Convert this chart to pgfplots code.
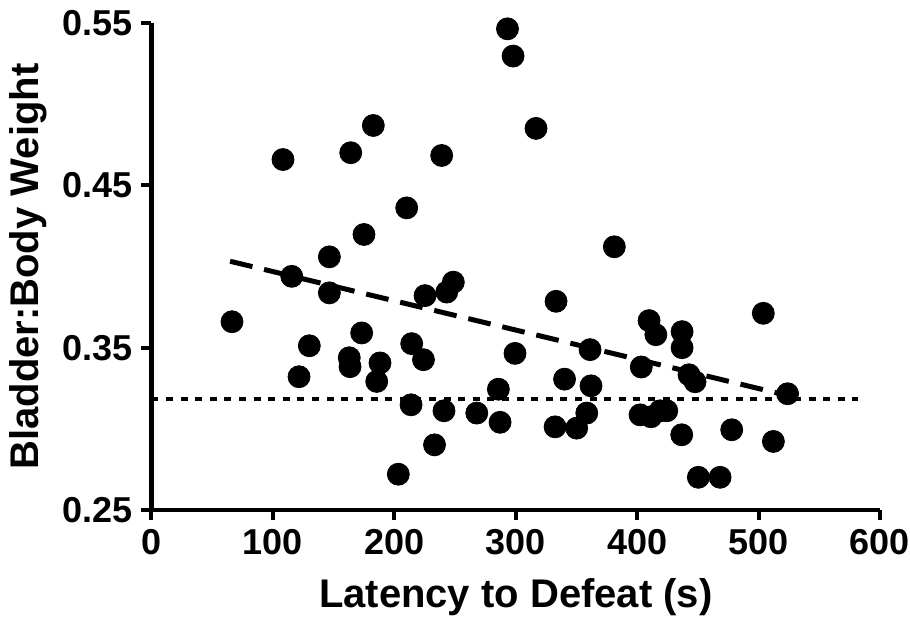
\documentclass[border=0pt]{standalone}
\usepackage{fontspec}
\setmainfont{Liberation Sans}
\usepackage{pgfplots}
\pgfplotsset{compat=1.18}
\begin{document}
\begin{tikzpicture}
\begin{axis}[
  scale only axis,
  width=364.25pt, height=243.3pt,
  xmin=0, xmax=600, ymin=0.25, ymax=0.55,
  axis x line=bottom, axis y line=left,
  axis line style={-, line width=2.2pt, black},
  xtick={0,100,...,600},
  ytick={0.25,0.35,0.45,0.55},
  yticklabel style={/pgf/number format/fixed,/pgf/number format/precision=2,/pgf/number format/fixed zerofill},
  /pgf/number format/assume math mode=true,
  tick align=outside,
  major tick length=5pt,
  tick style={line width=2pt, black},
  tick label style={font=\fontsize{18}{18}\selectfont\bfseries},
  xticklabel style={yshift=-1pt},
  yticklabel style={xshift=-1pt},
  label style={font=\fontsize{20}{20}\selectfont\bfseries},
  xlabel={Latency to Defeat (s)},
  ylabel={Bladder:Body Weight},
  xlabel style={at={(axis description cs:0.5,-0.1788)}, anchor=center},
  ylabel style={at={(axis description cs:-0.1695,0.5)}, anchor=center},
  clip=false,
]
\addplot[only marks, mark=*, mark size=5.5pt, black] coordinates {
(66.3,0.3660) (108.3,0.4660) (115.5,0.3940) (121.5,0.3321) (130.0,0.3512)
(146.5,0.4060) (146.5,0.3838) (162.9,0.3438) (163.5,0.3383) (164.1,0.4702)
(173.1,0.3591) (175.0,0.4198) (182.7,0.4870) (188.2,0.3406) (185.5,0.3292)
(203.3,0.2720) (210.2,0.4362) (214.3,0.3525) (224.0,0.3426) (213.8,0.3148)
(233.1,0.2901) (239.0,0.4685) (225.3,0.3821) (243.2,0.3843) (248.6,0.3904)
(240.9,0.3111) (267.9,0.3097) (287.1,0.3040) (285.7,0.3244) (293.2,0.5466)
(297.8,0.5298) (299.4,0.3465) (316.7,0.4852) (333.2,0.3786) (340.2,0.3306)
(332.4,0.3012) (350.2,0.3004) (358.5,0.3097) (361.2,0.3488) (362.0,0.3265)
(381.2,0.4122) (403.4,0.3381) (402.4,0.3086) (411.4,0.3074) (418.9,0.3111)
(424.4,0.3111) (409.8,0.3667) (415.4,0.3580) (437.0,0.3599) (437.0,0.3500)
(436.7,0.2963) (442.7,0.3333) (447.7,0.3290) (450.4,0.2701) (468.3,0.2701)
(477.9,0.2994) (503.9,0.3712) (512.2,0.2922) (523.9,0.3216)
};
\addplot[black, line width=2.5pt, dash pattern=on 11.5pt off 6pt] coordinates {(64.7,0.4033) (524,0.3205)};
\addplot[black, line width=2pt, dash pattern=on 3.5pt off 3.8pt] coordinates {(0,0.3183) (582,0.3183)};
\end{axis}
\pgfresetboundingbox
\path (-75.75pt,-57.5pt) rectangle (379.25pt,254.95pt);
\end{tikzpicture}
\end{document}
